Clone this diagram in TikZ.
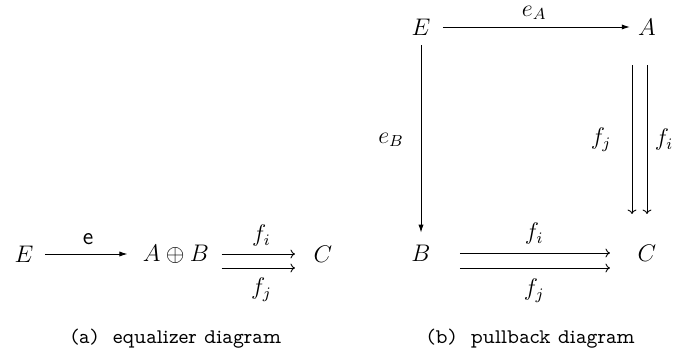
\RequirePackage{fix-cm}
\documentclass[tikz,border=0pt]{standalone}
\usepackage{fontspec}
\newfontfamily\capfont{lmmonoprop10-regular.otf}
\usetikzlibrary{arrows.meta}
\newcommand{\dsize}{\fontsize{12}{14.4}\selectfont}
\newcommand{\csize}{\fontsize{10.4}{12.5}\selectfont}
\tikzset{
  obj/.style={inner sep=0pt, font=\dsize},
  lbl/.style={inner sep=0pt, font=\dsize},
  capt/.style={inner sep=0pt, font=\csize\capfont},
  solidarr/.style={-{Latex[length=4pt,width=2.6pt]}, line width=0.45pt},
  toarr/.style={-{To[length=2.2pt,width=4.4pt]}, line width=0.45pt},
}
\begin{document}
\begin{tikzpicture}[x=0.5pt,y=-0.5pt]
\useasboundingbox (0,0) rectangle (680,357);
% (a) equalizer
\node[obj] (E1) at (24,254) {$E$};
\node[obj] (AB) at (176,254) {$A\oplus B$};
\node[obj] (C1) at (323,254) {$C$};
\draw[solidarr, shorten <=5.55pt, shorten >=7.6pt] (E1.east) -- (AB.west)
  node[lbl, midway, yshift=7.5pt] (le) {\textsf{e}};
\draw[toarr, shorten <=6.1pt, shorten >=9.2pt] (AB.east) -- (C1.west)
  node[lbl, midway, yshift=9pt] (lfi1) {$f_i$};
\draw[toarr, shorten <=6.1pt, shorten >=9.2pt] ([yshift=-7pt]AB.east) -- ([yshift=-7pt]C1.west)
  node[lbl, midway, yshift=-11pt] (lfj1) {$f_j$};
\node[capt] (capa) at (176,339) {(a)\ \ equalizer diagram};
% (b) pullback
\node[obj] (E2) at (421,27) {$E$};
\node[obj] (A2) at (647,27) {$A$};
\node[obj] (B2) at (421,253) {$B$};
\node[obj] (C2) at (647,253) {$C$};
\draw[solidarr, shorten <=6.05pt, shorten >=4pt] (E2.east) -- (A2.west)
  node[lbl, midway, yshift=7pt] (leA) {$e_A$};
\draw[solidarr, shorten <=4.9pt, shorten >=5.9pt] (E2.south) -- (B2.north)
  node[lbl, midway, xshift=-15pt] (leB) {$e_B$};
\draw[toarr, shorten <=14.9pt, shorten >=15.2pt] (A2.south) -- (C2.north)
  node[lbl, midway, xshift=8.5pt] (lfi2) {$f_i$};
\draw[toarr, shorten <=14.9pt, shorten >=15.2pt] ([xshift=-7.5pt]A2.south) -- ([xshift=-7.5pt]C2.north)
  node[lbl, midway, xshift=-15.5pt] (lfj2) {$f_j$};
\draw[toarr, shorten <=14.45pt, shorten >=13.7pt] (B2.east) -- (C2.west)
  node[lbl, midway, yshift=9.5pt] (lfi3) {$f_i$};
\draw[toarr, shorten <=14.45pt, shorten >=13.7pt] ([yshift=-7.5pt]B2.east) -- ([yshift=-7.5pt]C2.west)
  node[lbl, midway, yshift=-11.5pt] (lfj3) {$f_j$};
\node[capt] (capb) at (531,339) {(b)\ \ pullback diagram};
\end{tikzpicture}
\end{document}
